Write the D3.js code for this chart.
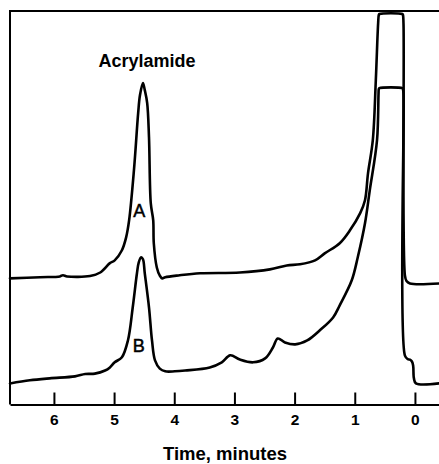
<!DOCTYPE html>
<html>
<head>
<meta charset="utf-8">
<script src="https://cdn.jsdelivr.net/npm/d3@7/dist/d3.min.js"></script>
<style>
  html, body { margin: 0; padding: 0; background: #fff; }
  svg { display: block; }
  text { font-family: "Liberation Sans", Arial, Helvetica, sans-serif; fill: #000; }
</style>
</head>
<body>
<svg id="chart" width="439" height="464"></svg>
<script>
// Retention time (minutes) and detector response (% of full scale) for trace A
const timeA = [6.73, 6.23, 5.90, 5.85, 5.78, 5.40, 5.23, 5.07, 4.99, 4.87, 4.80, 4.75, 4.67, 4.60, 4.57, 4.52,
  4.49, 4.45, 4.42, 4.39, 4.35, 4.34, 4.29, 4.24, 4.20, 4.15, 3.91, 3.57, 2.91, 2.41, 2.13, 1.91, 1.66, 1.50,
  1.25, 1.08, 0.91, 0.83, 0.78, 0.70, 0.65, 0.612, 0.60, 0.59, 0.21, 0.20, 0.19, 0.166, 0.14, 0.083, -0.40];
const signalA = [32.3, 32.6, 32.8, 33.1, 32.8, 32.9, 33.8, 36.2, 36.9, 39.5, 42.8, 47.2, 60.0, 74.6, 79.2, 82.3,
  80.5, 77.2, 68.5, 51.5, 47.2, 41.3, 35.1, 33.0, 32.3, 32.6, 33.1, 33.6, 33.8, 34.6, 35.6, 35.9, 36.9, 38.7,
  41.3, 44.6, 49.0, 52.3, 59.2, 67.7, 83.1, 97.5, 99.8, 100, 100, 99.8, 97.5, 33.0, 31.6, 31.0, 31.0];

// Trace B
const timeB = [6.73, 6.40, 6.07, 5.65, 5.48, 5.32, 5.15, 5.07, 4.99, 4.87, 4.77, 4.69, 4.62, 4.59, 4.55, 4.52,
  4.49, 4.42, 4.37, 4.32, 4.24, 4.15, 3.99, 3.82, 3.41, 3.21, 3.07, 2.91, 2.69, 2.49, 2.36, 2.28, 2.16, 1.99,
  1.79, 1.58, 1.36, 1.25, 1.05, 0.95, 0.83, 0.75, 0.63, 0.605, 0.60, 0.59, 0.21, 0.20, 0.19, 0.166, 0.12,
  0.083, 0.05, 0.03, 0.017, -0.017, -0.40];
const signalB = [5.4, 6.2, 6.7, 7.2, 7.8, 7.9, 8.7, 9.5, 10.8, 12.1, 16.4, 24.9, 33.6, 36.4, 37.7, 37.2,
  33.6, 24.9, 16.4, 11.3, 9.2, 8.5, 8.5, 8.7, 9.5, 10.8, 12.6, 11.5, 10.8, 11.8, 14.6, 16.9, 15.9, 15.4,
  16.4, 19.0, 22.3, 25.4, 31.8, 37.7, 46.4, 54.9, 67.7, 79.5, 80.8, 81.0, 81.0, 80.8, 79.5, 12.5, 11.6,
  11.5, 11.0, 10.0, 6.7, 5.4, 5.4];

const tickValues = [6, 5, 4, 3, 2, 1, 0];
const peakLabel = "Acrylamide";
const traceNames = ["A", "B"];
const axisTitle = "Time, minutes";

const svg = d3.select("#chart");
const plotLeft = 10, plotRight = 439, plotTop = 11, plotBottom = 404.5;

const x = d3.scaleLinear().domain([6.73, -0.40]).range([plotLeft, plotRight]);
const y = d3.scaleLinear().domain([0, 100]).range([plotBottom, 14]);

// frame: top and left edges
svg.append("path")
  .attr("d", `M${plotRight},${plotTop}H${plotLeft}V${plotBottom}`)
  .attr("fill", "none").attr("stroke", "#000").attr("stroke-width", 2);

// time axis with inward ticks
const axis = svg.append("g")
  .attr("transform", `translate(0,${plotBottom})`)
  .call(d3.axisBottom(x).tickValues(tickValues).tickFormat(d3.format("d"))
    .tickSizeInner(-12).tickSizeOuter(0).tickPadding(9));
axis.select(".domain").attr("stroke-width", 2);
axis.selectAll(".tick line").attr("stroke-width", 2);
axis.selectAll(".tick text")
  .attr("font-size", 15.5).attr("font-weight", "bold")
  .style("font-family", "'Liberation Sans', Arial, sans-serif");

// smooth pen trace through the read-off points
const line = d3.line().x(d => x(d[0])).y(d => y(d[1])).curve(d3.curveCatmullRom.alpha(0.5));

const traces = [
  d3.zip(timeA, signalA),
  d3.zip(timeB, signalB)
];

svg.selectAll("path.trace")
  .data(traces)
  .join("path")
  .attr("class", "trace")
  .attr("d", line)
  .attr("fill", "none")
  .attr("stroke", "#000")
  .attr("stroke-width", 2.6)
  .attr("stroke-linejoin", "round")
  .attr("stroke-linecap", "round");

// peak annotation
svg.append("text")
  .attr("x", 147).attr("y", 67)
  .attr("text-anchor", "middle")
  .attr("font-size", 18).attr("font-weight", "bold")
  .text(peakLabel);

svg.selectAll("text.trace-name")
  .data([{ name: traceNames[0], t: 4.58, yPos: 217 }, { name: traceNames[1], t: 4.59, yPos: 352 }])
  .join("text")
  .attr("class", "trace-name")
  .attr("x", d => x(d.t)).attr("y", d => d.yPos)
  .attr("text-anchor", "middle")
  .attr("font-size", 18)
  .attr("stroke", "#000").attr("stroke-width", 0.5)
  .text(d => d.name);

svg.append("text")
  .attr("x", 225).attr("y", 460)
  .attr("text-anchor", "middle")
  .attr("font-size", 18.5).attr("font-weight", "bold")
  .text(axisTitle);
</script>
</body>
</html>
